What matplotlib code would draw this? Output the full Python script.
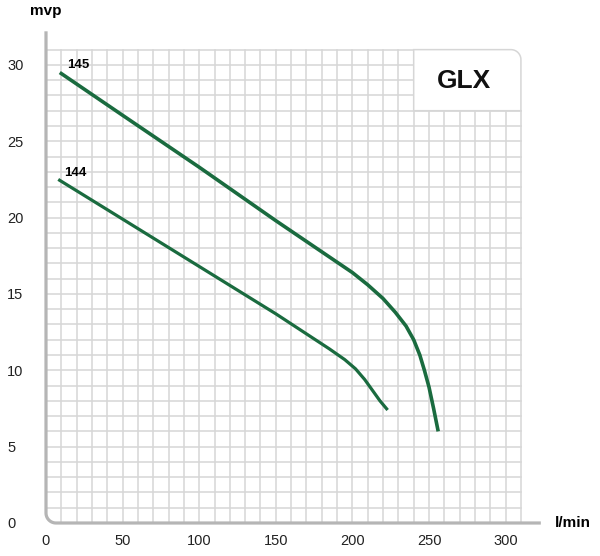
import numpy as np
import matplotlib
matplotlib.use("Agg")
import matplotlib.pyplot as plt
from matplotlib.patches import Polygon

plt.rcParams['font.family'] = ['Liberation Sans', 'DejaVu Sans']

# pump curves
flow_145 = [9, 50, 100, 150, 200, 210, 220, 228, 235, 240, 244, 247, 250, 253, 256]
head_145 = [29.5, 26.7, 23.3, 19.8, 16.4, 15.6, 14.7, 13.8, 12.9, 12.0, 11.0, 10.0, 8.9, 7.5, 6.0]
flow_144 = [8, 50, 100, 150, 185, 195, 202, 208, 213, 218, 223]
head_144 = [22.5, 19.9, 16.8, 13.7, 11.4, 10.7, 10.1, 9.4, 8.7, 8.0, 7.4]

x_ticks = [0, 50, 100, 150, 200, 250, 300]
y_ticks = [0, 5, 10, 15, 20, 25, 30]

GREEN = '#1a6b3f'
GRID = '#d6d6d6'
SPINE = '#b5b5b5'

fig = plt.figure(figsize=(6, 5.56), dpi=100)
# x=0 at px 46, 1.532 px/unit ; y=0 at px 523, 15.27 px/unit
xmax, ymax = 325, 32.5
ax = fig.add_axes([46 / 600, 33 / 556, xmax * 1.532 / 600, ymax * 15.27 / 556])
ax.set_xlim(0, xmax)
ax.set_ylim(0, ymax)
for s in ax.spines.values():
    s.set_visible(False)

# grid, 10 l/min by 1 m, with a label box in the top right corner
gx, gy = 310, 31
bx, by = 240, 27
for x in range(10, gx + 1, 10):
    top = gy if x <= bx else by
    ax.plot([x, x], [0, top], color=GRID, lw=1.1, zorder=1)
for y in range(1, gy + 1):
    right = gx if y <= by else bx
    ax.plot([0, right], [y, y], color=GRID, lw=1.1, zorder=1)

# box with rounded top-right corner (radius ~10 px)
rx, ry = 10 / 1.532, 10 / 15.27
t = np.linspace(0, np.pi / 2, 20)
arc_x = gx - rx + rx * np.cos(t)
arc_y = gy - ry + ry * np.sin(t)
box_pts = [(bx, by), (gx, by)] + list(zip(arc_x, arc_y)) + [(bx, gy)]
ax.add_patch(Polygon(box_pts, closed=True, facecolor='white', edgecolor=GRID,
                     lw=1.1, zorder=2))
ax.text(273, 28.95, 'GLX', fontsize=19, fontweight='bold', ha='center',
        va='center', color='#111111', zorder=3)

# axis line with a rounded lower-left corner
t2 = np.linspace(np.pi, 1.5 * np.pi, 20)
cx = rx + rx * np.cos(t2)
cy = ry + ry * np.sin(t2)
sx = [0] + list(cx) + [323]
sy = [32.2] + list(cy) + [0]
ax.plot(sx, sy, color=SPINE, lw=2.3, clip_on=False, zorder=4,
        solid_capstyle='butt')

# curves
ax.plot(flow_145, head_145, color=GREEN, lw=2.6, zorder=5,
        solid_joinstyle='round', solid_capstyle='butt')
ax.plot(flow_144, head_144, color=GREEN, lw=2.3, zorder=5,
        solid_joinstyle='round', solid_capstyle='butt')
ax.text(13.7, 30.0, '145', fontsize=9.5, fontweight='bold', va='center', zorder=6)
ax.text(11.7, 22.9, '144', fontsize=9.5, fontweight='bold', va='center', zorder=6)

# ticks
ax.set_xticks(x_ticks)
ax.set_yticks(y_ticks)
ax.tick_params(length=0, labelsize=10.5, labelcolor='#222222')
ax.tick_params(axis='x', pad=8)
ax.tick_params(axis='y', pad=28)
for lab in ax.get_yticklabels():
    lab.set_horizontalalignment('left')

ax.text(0, 33.5, 'mvp', fontsize=11, fontweight='bold', ha='center',
        va='center', clip_on=False)
ax.text(332, 0, 'l/min', fontsize=11, fontweight='bold', ha='left',
        va='center', clip_on=False)

fig.savefig('out.png', dpi=100, facecolor='white')
